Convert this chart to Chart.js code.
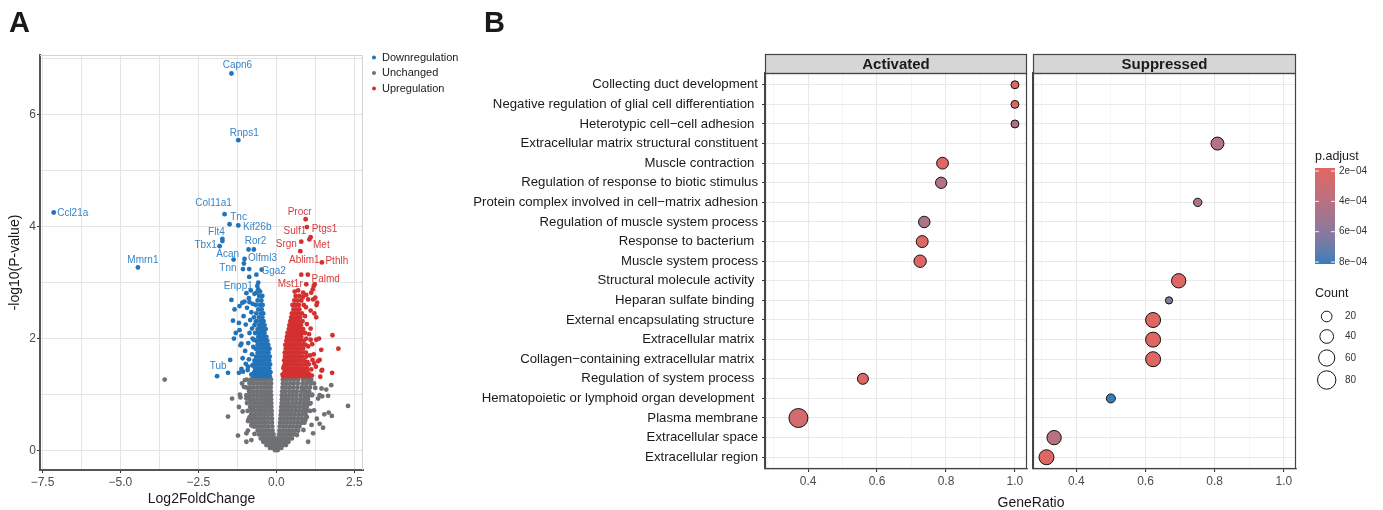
<!DOCTYPE html>
<html lang="en">
<head>
<meta charset="UTF-8">
<title>Volcano plot and GO enrichment dot plot</title>
<script src="https://cdn.jsdelivr.net/npm/chart.js"></script>
<style>
  body { margin: 0; background: #fff; font-family: 'Liberation Sans', Arial, sans-serif; }
  #wrap { position: relative; width: 1383px; height: 510px; overflow: hidden; }
  canvas { position: absolute; top: 0; }
  .tag { position: absolute; font-weight: bold; font-size: 29px; line-height: 1; color: #1a1a1a; }
  #xtitleB { position: absolute; top: 494px; left: 980px; width: 102px; text-align: center; font-size: 14px; line-height: 16px; color: #1a1a1a; }
</style>
</head>
<body>
<div id="wrap">
  <canvas id="volcano" width="480" height="510" style="left:0"></canvas>
  <canvas id="actChart" width="578" height="510" style="left:460px"></canvas>
  <canvas id="supChart" width="359" height="510" style="left:1024px"></canvas>
  <div class="tag" style="left:9px;top:8px">A</div>
  <div class="tag" style="left:484px;top:8px">B</div>
  <div id="xtitleB">GeneRatio</div>
</div>

<script>
  const FONT = "'Liberation Sans', Arial, sans-serif";

  // ---------- panel A : volcano ----------
  const volcanoXTicks = [-7.5, -6.25, -5, -3.75, -2.5, -1.25, 0, 1.25, 2.5];
  const volcanoYTicks = [0, 1, 2, 3, 4, 5, 6, 7];

  // labelled genes [name, log2FC, -log10 p]
  const downLabelled = [
    ['Capn6', -1.44, 6.73], ['Rnps1', -1.22, 5.54], ['Ccl21a', -7.14, 4.25], ['Mmrn1', -4.44, 3.27],
    ['Col11a1', -1.66, 4.22], ['Tnc', -1.5, 4.04], ['Kif26b', -1.22, 4.02], ['Flt4', -1.73, 3.78],
    ['Tbx1', -1.82, 3.65], ['Ror2', -0.89, 3.59], ['Acan', -1.37, 3.41], ['Olfml3', -1.02, 3.42],
    ['Tnn', -1.07, 3.24], ['Gga2', -0.47, 3.23], ['Enpp1', -0.61, 2.94], ['Tub', -1.9, 1.33]
  ];
  const upLabelled = [
    ['Procr', 0.94, 4.13], ['Sulf1', 0.98, 3.99], ['Ptgs1', 1.1, 3.81], ['Srgn', 0.8, 3.73],
    ['Met', 1.06, 3.77], ['Ablim1', 0.77, 3.56], ['Pthlh', 1.46, 3.36], ['Palmd', 1.2, 2.94],
    ['Mst1r', 0.96, 2.97]
  ];

  // rows of points sharing roughly the same -log10 p : [y, [x...]]
  const unchangedRows = [
    [0.01, [-0.04, 0.04]],
    [0.05, [-0.2, -0.11, -0.02, 0.07, 0.16]],
    [0.10, [-0.32, -0.23, -0.14, -0.05, 0.04, 0.13, 0.22, 0.31]],
    [0.16, [-0.42, -0.33, -0.24, -0.15, -0.06, 0.03, 0.12, 0.21, 0.3, 0.39]],
    [0.22, [-0.5, -0.41, -0.32, -0.23, -0.14, -0.05, 0.05, 0.14, 0.23, 0.32, 0.41, 0.5]],
    [0.29, [-0.56, -0.46, -0.37, -0.28, -0.19, -0.09, 0.09, 0.18, 0.27, 0.36, 0.46, 0.56]],
    [0.36, [-0.6, -0.5, -0.41, -0.32, -0.23, -0.12, 0.1, 0.2, 0.3, 0.4, 0.5, 0.61, 0.7]],
    [0.43, [-0.72, -0.64, -0.54, -0.44, -0.34, -0.24, -0.13, 0.11, 0.21, 0.31, 0.42, 0.53, 0.64, 0.74]],
    [0.50, [-0.79, -0.68, -0.57, -0.47, -0.37, -0.27, -0.14, 0.12, 0.22, 0.33, 0.44, 0.55, 0.67, 0.79, 0.9]],
    [0.57, [-0.88, -0.77, -0.66, -0.56, -0.46, -0.36, -0.25, -0.14, 0.13, 0.24, 0.35, 0.46, 0.57, 0.69, 0.81, 0.93]],
    [0.64, [-0.81, -0.7, -0.59, -0.48, -0.38, -0.27, -0.15, 0.14, 0.25, 0.36, 0.47, 0.58, 0.7, 0.82, 0.94]],
    [0.71, [-0.92, -0.8, -0.68, -0.57, -0.47, -0.36, -0.25, -0.15, 0.15, 0.26, 0.37, 0.48, 0.6, 0.72, 0.84, 0.96, 1.08]],
    [0.78, [-0.84, -0.72, -0.6, -0.49, -0.38, -0.27, -0.16, 0.16, 0.27, 0.38, 0.5, 0.62, 0.74, 0.86, 0.98]],
    [0.85, [-0.94, -0.82, -0.7, -0.59, -0.48, -0.37, -0.26, -0.16, 0.17, 0.28, 0.39, 0.51, 0.63, 0.75, 0.87, 0.99, 1.1]],
    [0.92, [-0.86, -0.74, -0.62, -0.5, -0.39, -0.28, -0.17, 0.18, 0.29, 0.4, 0.52, 0.64, 0.77, 0.89, 1.01]],
    [0.99, [-0.96, -0.84, -0.72, -0.6, -0.49, -0.38, -0.27, -0.17, 0.18, 0.29, 0.41, 0.53, 0.65, 0.78, 0.9, 1.02, 1.14]],
    [1.06, [-0.87, -0.75, -0.63, -0.51, -0.4, -0.29, -0.18, 0.19, 0.3, 0.42, 0.54, 0.66, 0.8, 0.92, 1.05]],
    [1.13, [-0.97, -0.84, -0.72, -0.6, -0.49, -0.38, -0.28, -0.18, 0.2, 0.31, 0.43, 0.55, 0.68, 0.82, 0.95, 1.08]],
    [1.20, [-0.86, -0.74, -0.62, -0.5, -0.39, -0.28, -0.17, 0.21, 0.32, 0.44, 0.56, 0.69, 0.84, 0.97, 1.1]],
    [1.27, [-0.95, -0.82, -0.7, -0.59, -0.48, -0.37, -0.27, -0.17, 0.21, 0.32, 0.44, 0.57, 0.7, 0.86, 0.99, 1.12]]
  ];
  const unchangedScatter = [
    [-3.58, 1.27], [2.3, 0.8], [-1.55, 0.61], [-1.23, 0.27], [-1.42, 0.93], [-1.15, 0.95], [-1.2, 0.78],
    [-1.04, 1.14], [-0.91, 0.53], [-0.91, 0.36], [-0.96, 0.93], [1.76, 1.17], [1.78, 0.62], [1.54, 0.65],
    [1.68, 0.68], [1.39, 0.48], [1.5, 0.41], [1.45, 1.11], [1.66, 0.98], [1.39, 0.99], [1.21, 1.2],
    [1.07, 0.84], [1.21, 0.72], [1.18, 0.31], [1.02, 0.16], [1.07, 1.26], [1.3, 0.57], [0.92, 0.54],
    [0.87, 0.37], [-0.96, 0.31], [-1.01, 1.26], [-0.96, 0.16], [-0.8, 0.19], [-1.17, 1.0], [1.34, 0.93],
    [0.95, 0.84], [1.6, 1.09], [1.47, 0.97], [1.13, 0.46], [0.92, 0.72], [-0.85, 0.6], [-0.82, 0.9],
    [-0.88, 1.1], [-0.84, 1.22], [-0.8, 0.45], [0.9, 0.7], [0.92, 1.0], [0.96, 1.2], [0.88, 0.85],
    [0.86, 1.12], [0.82, 0.5], [-0.78, 0.78], [0.98, 0.6], [-0.9, 0.99], [0.97, 1.05], [1.0, 0.95],
    [-0.7, 0.3], [0.66, 0.28], [-1.08, 0.7], [1.15, 1.0], [1.25, 1.12], [-1.1, 1.2]
  ];

  const downRows = [
    [1.33, [-0.75, -0.66, -0.57, -0.48, -0.39, -0.3, -0.21]],
    [1.40, [-0.71, -0.62, -0.53, -0.44, -0.35, -0.26, -0.19]],
    [1.47, [-0.68, -0.59, -0.5, -0.41, -0.32, -0.23]],
    [1.54, [-0.72, -0.63, -0.54, -0.45, -0.36, -0.27, -0.2]],
    [1.61, [-0.7, -0.6, -0.5, -0.41, -0.32, -0.23]],
    [1.68, [-0.65, -0.55, -0.46, -0.37, -0.28, -0.21]],
    [1.75, [-0.6, -0.51, -0.42, -0.33, -0.25]],
    [1.82, [-0.66, -0.56, -0.47, -0.38, -0.29, -0.22]],
    [1.89, [-0.6, -0.5, -0.42, -0.34, -0.26]],
    [1.96, [-0.64, -0.54, -0.45, -0.37, -0.29]],
    [2.03, [-0.58, -0.49, -0.4, -0.32]],
    [2.10, [-0.68, -0.56, -0.46, -0.38]],
    [2.17, [-0.6, -0.5, -0.42, -0.34]],
    [2.24, [-0.7, -0.55, -0.46, -0.38]],
    [2.31, [-0.63, -0.5, -0.41]],
    [2.38, [-0.72, -0.56, -0.45]],
    [2.45, [-0.64, -0.5, -0.42]],
    [2.52, [-0.58, -0.47]],
    [2.60, [-0.66, -0.52, -0.44]],
    [2.68, [-0.6, -0.48]],
    [2.76, [-0.55, -0.45]]
  ];
  const downScatter = [
    [-0.8, 1.36], [-0.92, 1.44], [-0.77, 1.52], [-0.88, 1.63], [-0.78, 1.72], [-1.0, 1.78], [-0.74, 1.85],
    [-0.9, 1.92], [-0.76, 2.0], [-1.12, 2.05], [-0.86, 2.1], [-0.78, 2.18], [-0.98, 2.25], [-1.2, 2.28],
    [-0.84, 2.33], [-1.05, 2.4], [-0.8, 2.47], [-0.94, 2.55], [-1.18, 2.58], [-0.76, 2.62], [-0.88, 2.72],
    [-1.02, 2.66], [-0.7, 2.8], [-0.82, 2.86], [-1.3, 2.1], [-1.15, 1.88], [-1.08, 1.65], [-0.98, 1.55],
    [-1.12, 1.46], [-0.72, 1.98], [-0.66, 2.3], [-0.58, 2.88], [-0.52, 2.84], [-1.44, 2.69], [-1.34, 2.52],
    [-1.39, 2.32], [-1.36, 2.0], [-0.96, 2.81], [-0.64, 2.82], [-1.09, 2.64], [-0.86, 2.65], [-1.48, 1.62],
    [-1.55, 1.39], [-1.2, 1.39], [-1.07, 1.41], [-0.91, 1.5], [-1.18, 2.15], [-1.12, 1.91], [-1.73, 3.74],
    [-0.72, 3.59], [-1.04, 3.34], [-0.87, 3.24], [-0.64, 3.14], [-0.87, 3.1], [-0.58, 3.0]
  ];

  const upRows = [
    [1.33, [0.22, 0.31, 0.4, 0.49, 0.58, 0.67, 0.76, 0.85, 0.95, 1.05]],
    [1.40, [0.26, 0.35, 0.44, 0.53, 0.62, 0.71, 0.8, 0.9, 1.0]],
    [1.47, [0.23, 0.32, 0.41, 0.5, 0.59, 0.68, 0.77, 0.87, 0.98]],
    [1.54, [0.27, 0.36, 0.45, 0.54, 0.63, 0.72, 0.82, 0.93, 1.04]],
    [1.61, [0.25, 0.34, 0.43, 0.52, 0.61, 0.7, 0.79, 0.9]],
    [1.68, [0.28, 0.37, 0.46, 0.55, 0.64, 0.73, 0.84, 0.96]],
    [1.75, [0.27, 0.36, 0.45, 0.54, 0.63, 0.72, 0.82, 0.95]],
    [1.82, [0.3, 0.39, 0.48, 0.57, 0.66, 0.75, 0.86]],
    [1.89, [0.29, 0.38, 0.47, 0.56, 0.65, 0.74, 0.84, 0.94]],
    [1.96, [0.32, 0.41, 0.5, 0.59, 0.68, 0.77, 0.88]],
    [2.03, [0.34, 0.43, 0.52, 0.61, 0.7, 0.8]],
    [2.10, [0.36, 0.45, 0.54, 0.63, 0.72, 0.82, 0.92]],
    [2.17, [0.4, 0.49, 0.58, 0.67, 0.76, 0.86]],
    [2.24, [0.42, 0.51, 0.6, 0.69, 0.79]],
    [2.31, [0.45, 0.54, 0.63, 0.72, 0.84]],
    [2.38, [0.48, 0.57, 0.66, 0.76]],
    [2.45, [0.5, 0.6, 0.7, 0.82]],
    [2.52, [0.55, 0.64, 0.74]],
    [2.60, [0.52, 0.62, 0.72, 0.88]],
    [2.68, [0.58, 0.68, 0.8]],
    [2.76, [0.62, 0.74]]
  ];
  const upScatter = [
    [1.06, 1.36], [1.12, 1.45], [1.0, 1.58], [1.08, 1.7], [1.02, 1.86], [0.96, 2.0], [1.05, 2.08],
    [0.98, 2.26], [0.92, 2.4], [1.1, 2.5], [0.95, 2.56], [1.02, 2.7], [0.85, 2.74], [0.7, 2.86],
    [0.86, 2.82], [0.96, 2.78], [1.12, 2.82], [1.23, 2.97], [1.17, 2.88], [1.25, 2.73], [1.29, 2.6],
    [1.22, 2.45], [1.8, 2.06], [1.99, 1.82], [1.79, 1.39], [1.47, 1.44], [1.39, 1.62], [1.28, 1.98],
    [1.44, 1.8], [1.37, 2.0], [1.34, 1.6], [1.45, 1.43], [1.41, 1.32], [1.27, 1.5], [1.21, 1.56],
    [1.28, 2.38], [1.31, 2.64], [1.18, 2.7], [0.59, 2.84], [1.15, 1.9], [1.2, 1.72], [1.1, 2.18],
    [0.8, 3.14], [1.01, 3.14], [1.14, 1.34], [0.2, 1.36], [0.24, 1.5], [1.16, 1.62], [1.1, 1.98]
  ];

  // text nudges for labels, px from the point
  const labelNudge = {
    Capn6: [6, -8], Rnps1: [6, -7], Ccl21a: [19, 1], Mmrn1: [5, -7], Col11a1: [-11, -11],
    Tnc: [9, -7], Kif26b: [19, 2], Flt4: [-6, -7], Tbx1: [-14, -1], Ror2: [7, -8], Acan: [-6, -5],
    Olfml3: [18, -1], Tnn: [-15, -1], Gga2: [12, 2], Enpp1: [-19, 0], Tub: [1, -10],
    Procr: [-6, -7], Sulf1: [-12, 4], Ptgs1: [14, -8], Srgn: [-15, 3], Met: [12, 6],
    Ablim1: [4, 9], Pthlh: [15, -1], Palmd: [12, -7], Mst1r: [-16, 0]
  };

  const BLUE = '#2273B9', RED = '#D3302F', GRAY = '#6F7174';
  const BLUE_TXT = '#3685C8', RED_TXT = '#D9393B';

  const fromRows = rows => rows.flatMap(([y, xs]) => xs.map(x => ({ x, y })));
  const fromPairs = pairs => pairs.map(([x, y]) => ({ x, y }));
  const fromLabelled = list => list.map(([, x, y]) => ({ x, y }));
  const minus = s => s.replace('-', '\u2212');

  const volcanoDecor = {
    id: 'volcanoDecor',
    beforeDatasetsDraw(chart) {
      const { ctx, chartArea: a } = chart;
      ctx.save();
      ctx.strokeStyle = '#d4d4d4';
      ctx.lineWidth = 1;
      ctx.beginPath();
      ctx.moveTo(a.left, a.top + 0.5);
      ctx.lineTo(a.right - 0.5, a.top + 0.5);
      ctx.lineTo(a.right - 0.5, a.bottom);
      ctx.stroke();
      ctx.restore();
    },
    afterDatasetsDraw(chart) {
      const { ctx, scales: { x, y } } = chart;
      ctx.save();
      ctx.font = '10px ' + FONT;
      ctx.textAlign = 'center';
      ctx.textBaseline = 'middle';
      const put = (list, color) => {
        ctx.fillStyle = color;
        list.forEach(([name, gx, gy]) => {
          const [dx, dy] = labelNudge[name];
          ctx.fillText(name, x.getPixelForValue(gx) + dx, y.getPixelForValue(gy) + dy);
        });
      };
      put(downLabelled, BLUE_TXT);
      put(upLabelled, RED_TXT);
      ctx.restore();
    },
    afterDraw(chart) {
      const ctx = chart.ctx;
      const items = [['Downregulation', BLUE], ['Unchanged', GRAY], ['Upregulation', RED]];
      ctx.save();
      ctx.font = '11px ' + FONT;
      ctx.textBaseline = 'middle';
      items.forEach(([txt, col], i) => {
        const yy = 57.5 + i * 15.5;
        ctx.fillStyle = col;
        ctx.beginPath();
        ctx.arc(374, yy, 2, 0, Math.PI * 2);
        ctx.fill();
        ctx.fillStyle = '#1a1a1a';
        ctx.fillText(txt, 382, yy);
      });
      ctx.restore();
    }
  };

  new Chart(document.getElementById('volcano'), {
    type: 'scatter',
    data: {
      datasets: [
        { label: 'Downregulation', data: fromRows(downRows).concat(fromPairs(downScatter), fromLabelled(downLabelled)), backgroundColor: BLUE },
        { label: 'Upregulation', data: fromRows(upRows).concat(fromPairs(upScatter), fromLabelled(upLabelled)), backgroundColor: RED },
        { label: 'Unchanged', data: fromRows(unchangedRows).concat(fromPairs(unchangedScatter)), backgroundColor: GRAY }
      ]
    },
    options: {
      responsive: false,
      animation: false,
      devicePixelRatio: 1,
      events: [],
      layout: { padding: { top: 55, right: 117, left: 0, bottom: 0 } },
      plugins: { legend: { display: false }, tooltip: { enabled: false } },
      elements: { point: { radius: 2.4, borderWidth: 0 } },
      scales: {
        x: {
          type: 'linear', min: -7.58, max: 2.78,
          afterBuildTicks: s => { s.ticks = volcanoXTicks.map(v => ({ value: v })); },
          afterFit: s => { s.height = 40; },
          grid: {
            color: '#e4e4e4', lineWidth: 1, tickLength: 3,
            tickColor: c => (Math.abs(c.tick.value / 2.5 - Math.round(c.tick.value / 2.5)) < 1e-6 ? '#333' : 'rgba(0,0,0,0)')
          },
          border: { color: '#555', width: 2 },
          ticks: {
            color: '#4d4d4d', font: { family: FONT, size: 12 }, padding: 2, maxRotation: 0, autoSkip: false,
            callback: v => (Math.abs(v / 2.5 - Math.round(v / 2.5)) < 1e-6 ? minus(v.toFixed(1)) : '')
          },
          title: { display: true, text: 'Log2FoldChange', color: '#1a1a1a', font: { family: FONT, size: 14 }, padding: { top: 0, bottom: 2 } }
        },
        y: {
          type: 'linear', min: -0.344, max: 7.06,
          afterBuildTicks: s => { s.ticks = volcanoYTicks.map(v => ({ value: v })); },
          afterFit: s => { s.width = 40; },
          grid: {
            color: '#e4e4e4', lineWidth: 1, tickLength: 3,
            tickColor: c => (c.tick.value % 2 === 0 ? '#333' : 'rgba(0,0,0,0)')
          },
          border: { color: '#555', width: 2 },
          ticks: {
            color: '#4d4d4d', font: { family: FONT, size: 12 }, padding: 1, autoSkip: false,
            callback: v => (v % 2 === 0 ? String(v) : '')
          },
          title: { display: true, text: '-log10(P-value)', color: '#1a1a1a', font: { family: FONT, size: 14 }, padding: { top: 7, bottom: 0 } }
        }
      }
    },
    plugins: [volcanoDecor]
  });

  // ---------- panel B : enrichment dot plot ----------
  const terms = [
    'Collecting duct development',
    'Negative regulation of glial cell differentiation ',
    'Heterotypic cell\u2212cell adhesion ',
    'Extracellular matrix structural constituent',
    'Muscle contraction ',
    'Regulation of response to biotic stimulus',
    'Protein complex involved in cell\u2212matrix adhesion',
    'Regulation of muscle system process',
    'Response to bacterium ',
    'Muscle system process',
    'Structural molecule activity ',
    'Heparan sulfate binding ',
    'External encapsulating structure ',
    'Extracellular matrix ',
    'Collagen\u2212containing extracellular matrix ',
    'Regulation of system process ',
    'Hematopoietic or lymphoid organ development ',
    'Plasma membrane',
    'Extracellular space',
    'Extracellular region'
  ];

  const actIndex = [0, 1, 2, 4, 5, 7, 8, 9, 15, 17];
  const actRatio = [1.0, 1.0, 1.0, 0.79, 0.786, 0.737, 0.731, 0.725, 0.559, 0.372];
  const actCount = [6, 6, 6, 27, 24, 25, 28, 31, 22, 86];
  const actPadj = [1.9e-4, 1.95e-4, 4.4e-4, 2.0e-4, 4.2e-4, 4.6e-4, 2.05e-4, 2.0e-4, 2.0e-4, 2.6e-4];

  const supIndex = [3, 6, 10, 11, 12, 13, 14, 16, 18, 19];
  const supRatio = [0.808, 0.751, 0.696, 0.668, 0.622, 0.622, 0.622, 0.5, 0.336, 0.314];
  const supCount = [35, 8, 45, 3, 50, 50, 50, 11, 45, 50];
  const supPadj = [4.2e-4, 4.5e-4, 1.95e-4, 6.3e-4, 1.9e-4, 1.9e-4, 1.9e-4, 8.1e-4, 4.0e-4, 1.9e-4];

  const ratioTicks = [0.3, 0.4, 0.5, 0.6, 0.7, 0.8, 0.9, 1.0];
  const padjBreaks = [2e-4, 4e-4, 6e-4, 8e-4];
  const padjLabels = ['2e\u221204', '4e\u221204', '6e\u221204', '8e\u221204'];
  const countBreaks = [20, 40, 60, 80];
  const P_LOW = 1.8e-4, P_HIGH = 8.13e-4;

  const countRadius = c => Math.sqrt(14 + c) - 0.5;

  // Lab interpolation between the two gradient ends (as ggplot does)
  function hexToLab(h) {
    const lin = v => { v /= 255; return v <= 0.04045 ? v / 12.92 : Math.pow((v + 0.055) / 1.055, 2.4); };
    const [r, g, b] = [1, 3, 5].map(i => lin(parseInt(h.slice(i, i + 2), 16)));
    const X = (0.4124 * r + 0.3576 * g + 0.1805 * b) / 0.95047;
    const Y = 0.2126 * r + 0.7152 * g + 0.0722 * b;
    const Z = (0.0193 * r + 0.1192 * g + 0.9505 * b) / 1.08883;
    const f = t => (t > 0.008856 ? Math.cbrt(t) : 7.787 * t + 16 / 116);
    return [116 * f(Y) - 16, 500 * (f(X) - f(Y)), 200 * (f(Y) - f(Z))];
  }
  function labToCss([L, A, B]) {
    const fy = (L + 16) / 116, fx = fy + A / 500, fz = fy - B / 200;
    const inv = t => (t * t * t > 0.008856 ? t * t * t : (t - 16 / 116) / 7.787);
    const X = inv(fx) * 0.95047, Y = inv(fy), Z = inv(fz) * 1.08883;
    const r = 3.2406 * X - 1.5372 * Y - 0.4986 * Z;
    const g = -0.9689 * X + 1.8758 * Y + 0.0415 * Z;
    const b = 0.0557 * X - 0.2040 * Y + 1.0570 * Z;
    const gam = v => { v = v <= 0.0031308 ? 12.92 * v : 1.055 * Math.pow(v, 1 / 2.4) - 0.055; return Math.round(Math.min(1, Math.max(0, v)) * 255); };
    return `rgb(${gam(r)},${gam(g)},${gam(b)})`;
  }
  const LAB_LOW = hexToLab('#e06663'), LAB_HIGH = hexToLab('#327eba');
  function padjColor(p) {
    const t = Math.min(1, Math.max(0, (p - P_LOW) / (P_HIGH - P_LOW)));
    return labToCss(LAB_LOW.map((v, i) => v + (LAB_HIGH[i] - v) * t));
  }

  const facetDecor = {
    id: 'facetDecor',
    afterDraw(chart) {
      const { ctx, chartArea: a } = chart;
      const stripTop = 54;
      ctx.save();
      ctx.fillStyle = '#d6d6d6';
      ctx.fillRect(a.left, stripTop, a.right - a.left, a.top - stripTop);
      ctx.strokeStyle = '#444';
      ctx.lineWidth = 1.2;
      ctx.strokeRect(a.left + 0.5, stripTop + 0.5, a.right - a.left - 1, a.top - stripTop);
      ctx.strokeRect(a.left + 0.5, a.top + 0.5, a.right - a.left - 1, a.bottom - a.top - 1);
      ctx.fillStyle = '#1a1a1a';
      ctx.font = 'bold 15px ' + FONT;
      ctx.textAlign = 'center';
      ctx.textBaseline = 'middle';
      ctx.fillText(chart.options.facetName, (a.left + a.right) / 2, (stripTop + a.top) / 2 + 1);
      ctx.restore();
    }
  };

  // legend sits right of the Suppressed panel (canvas origin x = 1024)
  const legendDecor = {
    id: 'legendDecor',
    afterDraw(chart) {
      const ctx = chart.ctx;
      const bx = 291, bTop = 168, bH = 96, bW = 20;
      ctx.save();
      ctx.fillStyle = '#1a1a1a';
      ctx.font = '12.5px ' + FONT;
      ctx.textBaseline = 'middle';
      ctx.fillText('p.adjust', bx, 157);
      for (let i = 0; i < bH; i++) {
        ctx.fillStyle = padjColor(P_LOW + (P_HIGH - P_LOW) * (i + 0.5) / bH);
        ctx.fillRect(bx, bTop + i, bW, 1);
      }
      ctx.font = '10px ' + FONT;
      padjBreaks.forEach((p, i) => {
        const yy = bTop + (p - P_LOW) / (P_HIGH - P_LOW) * bH;
        ctx.strokeStyle = 'rgba(255,255,255,0.9)';
        ctx.lineWidth = 1;
        ctx.beginPath();
        ctx.moveTo(bx, yy); ctx.lineTo(bx + 4, yy);
        ctx.moveTo(bx + bW - 4, yy); ctx.lineTo(bx + bW, yy);
        ctx.stroke();
        ctx.fillStyle = '#333';
        ctx.fillText(padjLabels[i], bx + bW + 4, yy);
      });

      ctx.fillStyle = '#1a1a1a';
      ctx.font = '12.5px ' + FONT;
      ctx.fillText('Count', bx, 294);
      const rowsY = [316.5, 336.5, 358, 380];
      ctx.font = '10px ' + FONT;
      countBreaks.forEach((c, i) => {
        ctx.strokeStyle = '#111';
        ctx.lineWidth = 1;
        ctx.beginPath();
        ctx.arc(302.7, rowsY[i], countRadius(c), 0, Math.PI * 2);
        ctx.stroke();
        ctx.fillStyle = '#333';
        ctx.fillText(String(c), 321, rowsY[i]);
      });
      ctx.restore();
    }
  };

  function dotChart(canvasId, facetName, idx, ratio, count, padj, withLabels, padLeft, padRight, yWidth, extra) {
    return new Chart(document.getElementById(canvasId), {
      type: 'bubble',
      data: {
        datasets: [{
          data: idx.map((t, i) => ({ x: ratio[i], y: t, r: countRadius(count[i]) })),
          backgroundColor: padj.map(padjColor),
          borderColor: '#111',
          borderWidth: 1,
          hoverRadius: 0
        }]
      },
      options: {
        facetName,
        responsive: false,
        animation: false,
        devicePixelRatio: 1,
        events: [],
        layout: { padding: { top: 73, right: padRight, left: padLeft, bottom: 0 } },
        plugins: { legend: { display: false }, tooltip: { enabled: false } },
        scales: {
          x: {
            type: 'linear', min: 0.275, max: 1.035,
            afterBuildTicks: s => { s.ticks = ratioTicks.map(v => ({ value: v })); },
            afterFit: s => { s.height = 41; },
            grid: {
              color: c => (Math.round(c.tick.value * 10) % 2 === 0 ? '#e9e9e9' : '#f1f1f1'),
              lineWidth: c => (Math.round(c.tick.value * 10) % 2 === 0 ? 1.1 : 0.7),
              tickLength: 3,
              tickColor: c => (Math.round(c.tick.value * 10) % 2 === 0 ? '#333' : 'rgba(0,0,0,0)')
            },
            border: { color: '#444', width: 1.2 },
            ticks: {
              color: '#4d4d4d', font: { family: FONT, size: 12 }, padding: 2, maxRotation: 0, autoSkip: false,
              callback: v => (Math.round(v * 10) % 2 === 0 ? v.toFixed(1) : '')
            }
          },
          y: {
            type: 'linear', min: -0.6, max: 19.6, reverse: true,
            afterBuildTicks: s => { s.ticks = terms.map((_, i) => ({ value: i })); },
            afterFit: s => { s.width = yWidth; },
            grid: { color: '#e9e9e9', lineWidth: 1.1, tickLength: withLabels ? 3 : 0, drawTicks: withLabels, tickColor: '#333' },
            border: { color: '#444', width: 1.2 },
            ticks: {
              display: withLabels, color: '#1a1a1a', font: { family: FONT, size: 13.2 }, padding: 4, autoSkip: false,
              callback: v => terms[v]
            }
          }
        }
      },
      plugins: [facetDecor].concat(extra)
    });
  }

  // bubble overflow needs ~r+border of room beside the plot area, hence the paddings
  dotChart('actChart', 'Activated', actIndex, actRatio, actCount, actPadj, true, 0, 11, 305, []);
  dotChart('supChart', 'Suppressed', supIndex, supRatio, supCount, supPadj, false, 9, 87, 0, [legendDecor]);
</script>
</body>
</html>
